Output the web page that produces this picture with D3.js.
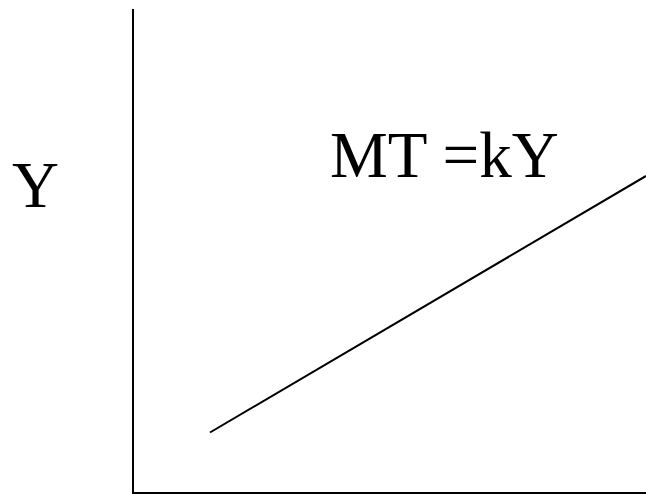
<!DOCTYPE html>
<html>
<head>
<meta charset="utf-8">
<script src="https://cdn.jsdelivr.net/npm/d3@7"></script>
<style>
  html, body { margin: 0; padding: 0; background: #fff; }
  svg { display: block; }
</style>
</head>
<body>
<svg id="chart" width="646" height="494"></svg>
<script>
// Data
const lineX = [1.5, 10];
const lineY = [1.25, 6.55];
const yAxisLabel = "Y";
const equationLabel = "MT =kY";

const W = 646, H = 494;
const svg = d3.select("#chart");

const x = d3.scaleLinear().domain([0, 10]).range([133, 646]);
const y = d3.scaleLinear().domain([0, 10]).range([493, 9]);

// Axes (plain lines, no ticks)
svg.append("line")
  .attr("x1", x(0)).attr("x2", x(0))
  .attr("y1", y(0) + 1).attr("y2", y(10))
  .attr("stroke", "#000").attr("stroke-width", 2);
svg.append("line")
  .attr("x1", x(0) - 1).attr("x2", x(10))
  .attr("y1", y(0)).attr("y2", y(0))
  .attr("stroke", "#000").attr("stroke-width", 2);

// The MT = kY line
const pts = lineX.map((v, i) => [v, lineY[i]]);
svg.append("path")
  .datum(pts)
  .attr("d", d3.line().x(d => x(d[0])).y(d => y(d[1])))
  .attr("fill", "none")
  .attr("stroke", "#000")
  .attr("stroke-width", 2);

// Labels
svg.append("text")
  .attr("x", 12).attr("y", 207)
  .attr("font-family", "'Liberation Serif', 'Times New Roman', serif")
  .attr("font-size", 65)
  .attr("fill", "#000")
  .text(yAxisLabel);

svg.append("text")
  .attr("x", 330).attr("y", 177)
  .attr("font-family", "'Liberation Serif', 'Times New Roman', serif")
  .attr("font-size", 65)
  .attr("fill", "#000")
  .text(equationLabel);
</script>
</body>
</html>
